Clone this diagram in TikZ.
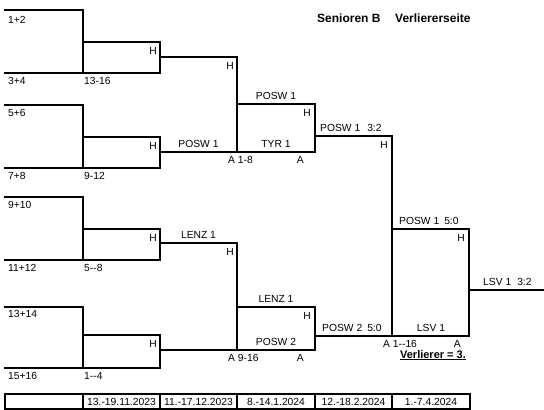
\documentclass[tikz,border=0pt]{standalone}
\usepackage{fontspec}
\setmainfont{Liberation Sans}
\begin{document}
\begin{tikzpicture}[x=1pt,y=-1pt,
  br/.style={line width=2.5pt, line join=miter, line cap=rect},
  tb/.style={line width=1.8pt},
  lab/.style={font=\fontsize{10.3}{12}\selectfont, inner sep=0pt},
  ttl/.style={font=\fontsize{12}{14}\selectfont\bfseries, inner sep=0pt}]
\useasboundingbox (0,0) rectangle (544,410);
% round 1 groups
\foreach \t/\b/\i in {10/73/42, 105/168/137, 197/260/229, 307/368/335}{
  \draw[br] (5,\t) -- (83,\t) -- (83,\b);
  \draw[br] (5,\b) -- (160,\b) -- (160,\i) -- (83,\i);
}
% round 2 upper
\draw[br] (160,57) -- (237,57) -- (237,152);
\draw[br] (160,152) -- (315,152) -- (315,104) -- (237,104);
\draw[br] (315,136) -- (392,136) -- (392,336);
% round 2 lower
\draw[br] (160,243) -- (237,243) -- (237,350);
\draw[br] (160,350) -- (315,350) -- (315,307) -- (237,307);
% final
\draw[br] (315,336) -- (469,336) -- (469,229) -- (392,229);
\draw[br] (469,290) -- (545,290);
% round 1 labels
\node[lab,anchor=base west] (l12) at (8,23) {1+2};
\node[lab,anchor=base west] (l34) at (8,84) {3+4};
\node[lab,anchor=base west] (l1316) at (84,84) {13-16};
\node[lab,anchor=base west] (l56) at (8,116) {5+6};
\node[lab,anchor=base west] (l78) at (8,179) {7+8};
\node[lab,anchor=base west] (l912) at (84,179) {9-12};
\node[lab,anchor=base west] (l910) at (8,208.5) {9+10};
\node[lab,anchor=base west] (l1112) at (8,271.5) {11+12};
\node[lab,anchor=base west] (l58) at (84,271.5) {5-{}-8};
\node[lab,anchor=base west] (l1314) at (8,317) {13+14};
\node[lab,anchor=base west] (l1516) at (8,379.5) {15+16};
\node[lab,anchor=base west] (l14) at (84,379.5) {1-{}-4};
% H labels
\foreach \x/\y [count=\n] in {157/54, 157/149, 157/241, 157/347, 234/69, 234/255, 311/116, 311/319, 388/148, 465/241}{
  \node[lab,anchor=base east] (h\n) at (\x,\y) {H};
}
% A labels
\node[lab,anchor=base west] (a18) at (228,163) {A 1-8};
\node[lab,anchor=base east] (a1) at (304,163) {A};
\node[lab,anchor=base west] (a916) at (228,361) {A 9-16};
\node[lab,anchor=base east] (a2) at (304,361) {A};
\node[lab,anchor=base west] (a116) at (383,347) {A 1-{}-16};
\node[lab,anchor=base east] (a3) at (461,347) {A};
% team labels
\node[lab,anchor=base] (t1) at (198.5,147.5) {POSW 1};
\node[lab,anchor=base] (t2) at (198.5,238.5) {LENZ 1};
\node[lab,anchor=base] (t3) at (276,99.5) {POSW 1};
\node[lab,anchor=base] (t4) at (276,147.5) {TYR 1};
\node[lab,anchor=base] (t5) at (276,302.5) {LENZ 1};
\node[lab,anchor=base] (t6) at (276,345.5) {POSW 2};
\node[lab,anchor=base west] (t7) at (320,131.5) {POSW 1\hspace{7pt}3:2};
\node[lab,anchor=base west] (t8) at (322,331.5) {POSW 2\hspace{5pt}5:0};
\node[lab,anchor=base west] (t9) at (399,224.5) {POSW 1\hspace{5pt}5:0};
\node[lab,anchor=base] (t10) at (431,331.5) {LSV 1};
\node[lab,anchor=base west] (t11) at (483,285.5) {LSV 1\hspace{6pt}3:2};
\node[inner sep=0pt,font=\fontsize{11}{13}\selectfont\bfseries,anchor=base] (verl) at (433,358) {\underline{Verlierer = 3.}};
% title
\node[ttl,anchor=base west] (tt1) at (317,22.3) {Senioren B};
\node[ttl,anchor=base west] (tt2) at (395,22.3) {Verliererseite};
% table
\draw[tb] (5,394) rectangle (470,409);
\foreach \x in {83,160,237,315,392}{ \draw[tb] (\x,394) -- (\x,409); }
\node[lab,anchor=base] (d1) at (121.5,405) {13.-19.11.2023};
\node[lab,anchor=base] (d2) at (198.5,405) {11.-17.12.2023};
\node[lab,anchor=base] (d3) at (276,405) {8.-14.1.2024};
\node[lab,anchor=base] (d4) at (353.5,405) {12.-18.2.2024};
\node[lab,anchor=base] (d5) at (431,405) {1.-7.4.2024};
\end{tikzpicture}
\end{document}
